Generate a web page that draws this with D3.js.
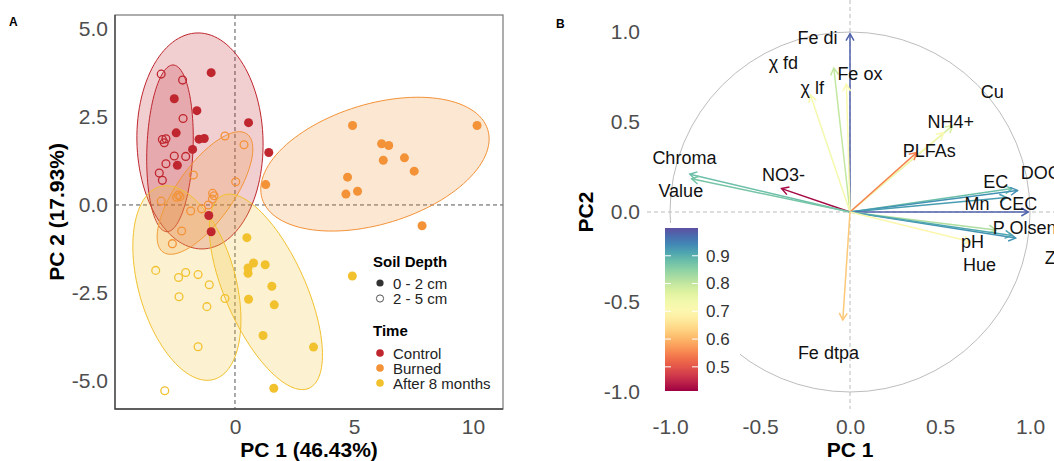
<!DOCTYPE html>
<html>
<head>
<meta charset="utf-8">
<script src="https://cdn.jsdelivr.net/npm/d3@7"></script>
<style>
body { margin: 0; background: #fff; }
svg text { font-family: Arial, "Liberation Sans", sans-serif; }
</style>
</head>
<body>
<div id="chart"></div>
<script>
// ---- panel A data (PC scores) ----
var groups = ["Control", "Burned", "After 8 months"];
var groupColors = ["#bf262e", "#f39237", "#f2c12e"];
var depths = ["0 - 2 cm", "2 - 5 cm"];

var controlTop = [[-1.0,3.76],[-2.55,3.02],[-1.6,2.68],[0.57,2.34],[-2.47,2.05],[-1.51,1.87],[-1.29,1.89],
  [-1.78,1.58],[1.42,1.49],[-2.42,1.13],[-1.1,-0.3],[-1.0,-0.76]];
var controlSub = [[-3.1,3.72],[-2.2,3.55],[-2.18,2.46],[-3.05,1.86],[-2.9,1.88],[-2.97,1.77],[-2.55,1.39],
  [-2.07,1.38],[-2.9,1.17],[-3.18,0.91],[-3.05,0.70]];
var burnedTop = [[4.94,2.26],[10.17,2.26],[6.16,1.74],[6.46,1.69],[6.23,1.27],[7.12,1.34],[7.53,0.96],
  [4.73,0.79],[4.66,0.31],[5.15,0.39],[1.29,0.58],[7.86,-0.59]];
var burnedSub = [[-0.42,1.96],[0.38,1.71],[-1.75,0.85],[0.03,0.66],[-2.38,0.28],[-2.45,0.22],[-2.31,0.24],
  [-0.94,0.33],[-0.88,0.26],[-0.95,0.17],[-1.12,0.0],[-1.4,-0.11],[-1.86,-0.17],[-3.1,0.11],[-2.24,-0.74],[-2.63,-1.1]];
var afterTop = [[0.5,-0.93],[0.78,-1.65],[1.27,-1.7],[0.55,-1.79],[0.55,-1.94],[1.55,-2.31],[0.57,-2.68],
  [1.65,-2.84],[1.18,-3.71],[3.3,-4.04],[1.63,-5.21],[4.93,-2.02]];
var afterSub = [[-3.33,-1.86],[-2.37,-2.06],[-2.07,-1.92],[-1.55,-1.98],[-1.08,-2.27],[-2.35,-2.61],
  [-1.18,-2.89],[-0.42,-2.66],[-1.55,-4.03],[-2.95,-5.28]];

// confidence ellipses: centre and two conjugate semi-axes, in PC units
var ellipseGroup  = [0, 0, 1, 1, 2, 2];
var ellipseCentre = [[-1.47,1.82],[-2.73,1.61],[5.88,1.16],[-1.26,0.34],[1.30,-2.47],[-2.02,-2.22]];
var ellipseAxisA  = [[-0.08,3.07],[0.126,2.37],[4.74,0.98],[1.76,1.68],[1.81,-2.74],[1.13,-2.74]];
var ellipseAxisB  = [[2.65,0],[0.97,0],[0.74,-1.63],[0.97,-0.46],[-1.54,-0.46],[-1.97,-0.37]];

var xTicksA = [0, 5, 10];
var yTicksA = [-5, -2.5, 0, 2.5, 5];

// ---- panel B data (variable loadings) ----
var varNames = ["Fe di","χ fd","Fe ox","χ lf","NO3-","Chroma","Value","NH4+","Cu","PLFAs",
  "EC","DOC","Mn","CEC","P Olsen","pH","Zn","Hue","Fe dtpa"];
var varPC1 = [0.0,-0.09,-0.02,-0.22,-0.38,-0.89,-0.88,0.57,0.52,0.37,0.90,0.93,0.87,0.99,0.81,0.92,0.90,0.67,-0.04];
var varPC2 = [0.99,0.80,0.71,0.65,0.13,0.21,0.185,0.48,0.44,0.33,0.13,0.12,0.08,0.0,-0.10,-0.145,-0.13,-0.165,-0.60];
var varCos = [0.98,0.80,0.71,0.73,0.42,0.88,0.87,0.78,0.72,0.55,0.88,0.93,0.92,0.98,0.82,0.93,0.91,0.70,0.62];
var labelPC1 = [-0.18,-0.37,0.055,-0.21,-0.37,-0.92,-0.94,0.56,0.79,0.44,0.81,1.06,0.705,0.935,0.97,0.68,1.14,0.72,-0.12];
var labelPC2 = [0.97,0.83,0.77,0.69,0.21,0.30,0.12,0.50,0.67,0.34,0.17,0.22,0.045,0.045,-0.085,-0.165,-0.255,-0.295,-0.78];

var ticksB = [-1, -0.5, 0, 0.5, 1];
var colorTicks = [0.5, 0.6, 0.7, 0.8, 0.9];
var colorDomain = [0.413, 1.0];

var width = 1054, height = 461;
var fmt1 = function(d) { return d.toFixed(1); };

var svg = d3.select("#chart").append("svg")
  .attr("width", width)
  .attr("height", height);

// ================= PANEL A =================
var x = d3.scaleLinear().domain([-5.04, 11.26]).range([115, 503]);
var y = d3.scaleLinear().domain([-5.8, 5.4]).range([409, 15]);

var gA = svg.append("g");

svg.append("text").attr("x", 9).attr("y", 26)
  .style("font-size", "12px").style("font-weight", "bold").text("A");

// zero lines
gA.append("line").attr("x1", x(0)).attr("x2", x(0)).attr("y1", y.range()[1]).attr("y2", y.range()[0])
  .attr("stroke", "#555").attr("stroke-dasharray", "4,3");
gA.append("line").attr("y1", y(0)).attr("y2", y(0)).attr("x1", x.range()[0]).attr("x2", x.range()[1])
  .attr("stroke", "#555").attr("stroke-dasharray", "4,3");

function ellipsePath(c, a, b, sx, sy) {
  var pts = d3.range(0, 361, 3).map(function(d) {
    var t = d * Math.PI / 180;
    return [sx(c[0] + Math.cos(t) * a[0] + Math.sin(t) * b[0]),
            sy(c[1] + Math.cos(t) * a[1] + Math.sin(t) * b[1])];
  });
  return d3.line()(pts) + "Z";
}

ellipseCentre.forEach(function(c, i) {
  var col = groupColors[ellipseGroup[i]];
  gA.append("path")
    .attr("d", ellipsePath(c, ellipseAxisA[i], ellipseAxisB[i], x, y))
    .attr("fill", col).attr("fill-opacity", 0.22)
    .attr("stroke", col).attr("stroke-width", 1);
});

var pointSets = [[controlTop,0,true],[controlSub,0,false],[burnedTop,1,true],[burnedSub,1,false],[afterTop,2,true],[afterSub,2,false]];
pointSets.forEach(function(s) {
  var col = groupColors[s[1]];
  gA.selectAll(null).data(s[0]).enter().append("circle")
    .attr("cx", function(d) { return x(d[0]); })
    .attr("cy", function(d) { return y(d[1]); })
    .attr("r", s[2] ? 4.5 : 3.9)
    .attr("fill", s[2] ? col : "none")
    .attr("stroke", col)
    .attr("stroke-width", s[2] ? 0 : 1.3);
});

// frame
gA.append("rect").attr("x", 115).attr("y", 15).attr("width", 388).attr("height", 394)
  .attr("fill", "none").attr("stroke", "#777").attr("stroke-width", 1.2);
gA.append("path").attr("d", "M115,15V409H503").attr("fill", "none").attr("stroke", "#444").attr("stroke-width", 1.3);

var axA1 = gA.append("g").attr("transform", "translate(0,409)")
  .call(d3.axisBottom(x).tickValues(xTicksA).tickSize(0).tickPadding(10).tickFormat(function(d) { return String(d); }));
var axA2 = gA.append("g").attr("transform", "translate(115,0)")
  .call(d3.axisLeft(y).tickValues(yTicksA).tickSize(0).tickPadding(7).tickFormat(fmt1));
[axA1, axA2].forEach(function(a) {
  a.select(".domain").remove();
  a.selectAll("text").style("font-size", "21px").attr("fill", "#4d4d4d").style("font-family", "Arial, 'Liberation Sans', sans-serif");
});

gA.append("text").attr("x", 309).attr("y", 457).attr("text-anchor", "middle")
  .style("font-size", "21px").style("font-weight", "bold").text("PC 1 (46.43%)");
gA.append("text").attr("transform", "translate(64,212) rotate(-90)").attr("text-anchor", "middle")
  .style("font-size", "21px").style("font-weight", "bold").text("PC 2 (17.93%)");

// legend A
var lg = gA.append("g");
lg.append("text").attr("x", 373).attr("y", 267).style("font-size", "15px").style("font-weight", "bold").text("Soil Depth");
depths.forEach(function(d, i) {
  var yy = 283 + i * 15.5;
  lg.append("circle").attr("cx", 380).attr("cy", yy).attr("r", 3.6)
    .attr("fill", i === 0 ? "#333" : "none").attr("stroke", i === 0 ? "none" : "#555").attr("stroke-width", 1);
  lg.append("text").attr("x", 393).attr("y", yy + 5.5).style("font-size", "15px").attr("fill", "#222").text(d);
});
lg.append("text").attr("x", 373).attr("y", 336).style("font-size", "15px").style("font-weight", "bold").text("Time");
groups.forEach(function(d, i) {
  var yy = 353 + i * 15;
  lg.append("circle").attr("cx", 380).attr("cy", yy).attr("r", 3.8).attr("fill", groupColors[i]);
  lg.append("text").attr("x", 393).attr("y", yy + 5.5).style("font-size", "15px").attr("fill", "#222").text(d);
});

// ================= PANEL B =================
var xb = d3.scaleLinear().domain([-1, 1]).range([670, 1030]);
var yb = d3.scaleLinear().domain([-1, 1]).range([392, 32]);
var color = d3.scaleSequential(d3.interpolateSpectral).domain(colorDomain);

var gB = svg.append("g");
svg.append("text").attr("x", 556).attr("y", 28)
  .style("font-size", "12px").style("font-weight", "bold").text("B");

var left = xb(-1.128), right = xb(1.4), top = yb(1.098), bottom = yb(-1.094);

gB.append("line").attr("x1", xb(0)).attr("x2", xb(0)).attr("y1", top).attr("y2", bottom)
  .attr("stroke", "#bbb").attr("stroke-dasharray", "4,3");
gB.append("line").attr("x1", left).attr("x2", right).attr("y1", yb(0)).attr("y2", yb(0))
  .attr("stroke", "#bbb").attr("stroke-dasharray", "4,3");
gB.append("circle").attr("cx", xb(0)).attr("cy", yb(0)).attr("r", xb(1) - xb(0))
  .attr("fill", "none").attr("stroke", "#bdbdbd").attr("stroke-width", 1);

varNames.forEach(function(n, i) {
  var x0 = xb(0), y0 = yb(0), x1 = xb(varPC1[i]), y1 = yb(varPC2[i]);
  var col = color(varCos[i]);
  var ang = Math.atan2(y1 - y0, x1 - x0), hl = 8, ha = Math.PI / 6;
  gB.append("line").attr("x1", x0).attr("y1", y0).attr("x2", x1).attr("y2", y1)
    .attr("stroke", col).attr("stroke-width", 1.5);
  gB.append("path")
    .attr("d", "M" + (x1 - hl * Math.cos(ang - ha)) + "," + (y1 - hl * Math.sin(ang - ha)) +
      "L" + x1 + "," + y1 + "L" + (x1 - hl * Math.cos(ang + ha)) + "," + (y1 - hl * Math.sin(ang + ha)))
    .attr("fill", "none").attr("stroke", col).attr("stroke-width", 1.5);
});

varNames.forEach(function(n, i) {
  gB.append("text").attr("x", xb(labelPC1[i])).attr("y", yb(labelPC2[i]))
    .attr("dy", "0.35em").attr("text-anchor", "middle")
    .style("font-size", "18px").attr("fill", "#111").text(n);
});

// colour legend
var leg = gB.append("g");
leg.append("rect").attr("x", 656).attr("y", 223).attr("width", 84).attr("height", 178).attr("fill", "#fff");
var yl = d3.scaleLinear().domain(colorDomain).range([391, 228]);
var grad = svg.append("defs").append("linearGradient").attr("id", "cgrad")
  .attr("x1", 0).attr("y1", 1).attr("x2", 0).attr("y2", 0);
d3.range(0, 1.0001, 0.05).forEach(function(t) {
  grad.append("stop").attr("offset", t).attr("stop-color", color(colorDomain[0] + t * (colorDomain[1] - colorDomain[0])));
});
leg.append("rect").attr("x", 665).attr("y", yl(colorDomain[1])).attr("width", 33)
  .attr("height", yl(colorDomain[0]) - yl(colorDomain[1])).attr("fill", "url(#cgrad)");
colorTicks.forEach(function(t) {
  leg.append("line").attr("x1", 665).attr("x2", 671).attr("y1", yl(t)).attr("y2", yl(t)).attr("stroke", "#fff").attr("stroke-width", 1);
  leg.append("line").attr("x1", 692).attr("x2", 698).attr("y1", yl(t)).attr("y2", yl(t)).attr("stroke", "#fff").attr("stroke-width", 1);
  leg.append("text").attr("x", 706).attr("y", yl(t)).attr("dy", "0.35em")
    .style("font-size", "17px").attr("fill", "#333").text(fmt1(t));
});

// frame B
gB.append("rect").attr("x", left).attr("y", top).attr("width", right - left).attr("height", bottom - top)
  .attr("fill", "none").attr("stroke", "#777").attr("stroke-width", 1.2);
gB.append("path").attr("d", "M" + left + "," + top + "V" + bottom + "H" + right)
  .attr("fill", "none").attr("stroke", "#333").attr("stroke-width", 1.5);

var axB1 = gB.append("g").attr("transform", "translate(0," + bottom + ")")
  .call(d3.axisBottom(xb).tickValues(ticksB).tickSize(0).tickPadding(10).tickFormat(fmt1));
var axB2 = gB.append("g").attr("transform", "translate(" + left + ",0)")
  .call(d3.axisLeft(yb).tickValues(ticksB).tickSize(0).tickPadding(7).tickFormat(fmt1));
[axB1, axB2].forEach(function(a) {
  a.select(".domain").remove();
  a.selectAll("text").style("font-size", "21px").attr("fill", "#4d4d4d").style("font-family", "Arial, 'Liberation Sans', sans-serif");
});

gB.append("text").attr("x", xb(0)).attr("y", 457).attr("text-anchor", "middle")
  .style("font-size", "21px").style("font-weight", "bold").text("PC 1");
gB.append("text").attr("transform", "translate(593,212) rotate(-90)").attr("text-anchor", "middle")
  .style("font-size", "21px").style("font-weight", "bold").text("PC2");
</script>
</body>
</html>
